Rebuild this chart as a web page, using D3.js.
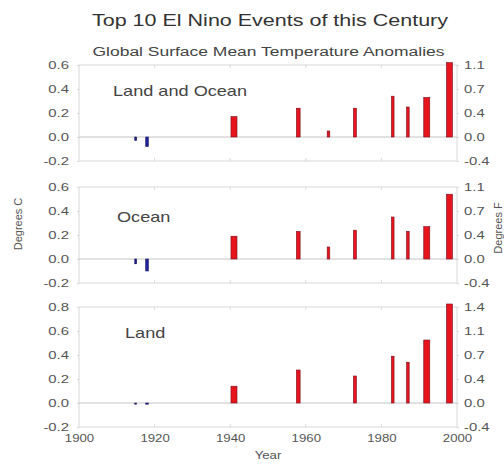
<!DOCTYPE html>
<html><head><meta charset="utf-8">
<script src="https://cdn.jsdelivr.net/npm/d3@7"></script>
<style>body{margin:0;background:#fff} svg{display:block}</style>
</head><body>
<svg id="chart" width="504" height="468"></svg>
<script>
// Ten strongest El Nino events of the century and their mean temperature anomalies (deg C)
const eventYears   = [1915, 1918, 1941, 1958, 1966, 1973, 1983, 1987, 1992, 1998];
const eventLengths = [0.5, 0.7, 1.6, 1.0, 0.7, 0.8, 0.7, 0.7, 1.6, 1.6]; // duration, years
const landOcean = [-0.03, -0.08, 0.17, 0.24, 0.05, 0.24, 0.34, 0.25, 0.33, 0.62];
const ocean     = [-0.04, -0.10, 0.19, 0.23, 0.10, 0.24, 0.35, 0.23, 0.27, 0.54];
const land      = [-0.01, -0.01, 0.14, 0.275, 0.0, 0.225, 0.39, 0.34, 0.525, 0.825];

const yearTicks = [1900, 1920, 1940, 1960, 1980, 2000];
const cTicksShort = [-0.2, 0.0, 0.2, 0.4, 0.6];
const cLabelsShort = ["-0.2", "0.0", "0.2", "0.4", "0.6"];
const fLabelsShort = ["-0.4", "0.0", "0.4", "0.7", "1.1"];
const cTicksTall = [-0.2, 0.0, 0.2, 0.4, 0.6, 0.8];
const cLabelsTall = ["-0.2", "0.0", "0.2", "0.4", "0.6", "0.8"];
const fLabelsTall = ["-0.4", "0.0", "0.4", "0.7", "1.1", "1.4"];

const panels = [
  {name: "Land and Ocean", values: landOcean, domain: [-0.2, 0.6], ticks: cTicksShort, cLabels: cLabelsShort, fLabels: fLabelsShort},
  {name: "Ocean",          values: ocean,     domain: [-0.2, 0.6], ticks: cTicksShort, cLabels: cLabelsShort, fLabels: fLabelsShort},
  {name: "Land",           values: land,      domain: [-0.2, 0.8], ticks: cTicksTall,  cLabels: cLabelsTall,  fLabels: fLabelsTall}
];

// layout
const layout = [
  {top: 65,  bottom: 161, labelX: 113, labelY: 96},
  {top: 187, bottom: 283, labelX: 117, labelY: 222},
  {top: 307, bottom: 427, labelX: 125, labelY: 338}
];
const left = 79, right = 457;
const font = "'Liberation Sans', Arial, sans-serif";
const textColor = "#555";
const frameColor = "#d8d8d8";

const svg = d3.select("#chart");
const x = d3.scaleLinear().domain([1900, 2000]).range([left, right]);

// widen small glyph runs a little, the way the original lettering is set
function stretch(sel, k) {
  sel.each(function () {
    const w = this.getComputedTextLength();
    d3.select(this).attr("textLength", w * k).attr("lengthAdjust", "spacingAndGlyphs");
  });
}

svg.append("text")
  .attr("x", 270).attr("y", 26)
  .attr("text-anchor", "middle")
  .attr("font-family", font).attr("font-size", 17)
  .attr("fill", "#333")
  .attr("textLength", 356).attr("lengthAdjust", "spacingAndGlyphs")
  .text("Top 10 El Nino Events of this Century");

svg.append("text")
  .attr("x", 268.5).attr("y", 56)
  .attr("text-anchor", "middle")
  .attr("font-family", font).attr("font-size", 12)
  .attr("fill", "#444")
  .attr("textLength", 352).attr("lengthAdjust", "spacingAndGlyphs")
  .text("Global Surface Mean Temperature Anomalies");

panels.forEach((p, i) => {
  const L = layout[i];
  const y = d3.scaleLinear().domain(p.domain).range([L.bottom, L.top]);
  const g = svg.append("g");

  // frame
  g.append("rect")
    .attr("x", left).attr("y", L.top)
    .attr("width", right - left).attr("height", L.bottom - L.top)
    .attr("fill", "none").attr("stroke", frameColor).attr("stroke-width", 1);

  // small year tick marks along top and bottom edges
  g.selectAll(".tt").data(yearTicks.slice(1, -1)).join("line")
    .attr("x1", d => x(d)).attr("x2", d => x(d))
    .attr("y1", L.top).attr("y2", L.top + 3)
    .attr("stroke", frameColor);
  g.selectAll(".tb").data(yearTicks.slice(1, -1)).join("line")
    .attr("x1", d => x(d)).attr("x2", d => x(d))
    .attr("y1", L.bottom).attr("y2", L.bottom - 3)
    .attr("stroke", frameColor);

  // zero line
  g.append("line")
    .attr("x1", left).attr("x2", right)
    .attr("y1", y(0)).attr("y2", y(0))
    .attr("stroke", "#c4c4c4").attr("stroke-width", 1);

  // bars
  g.selectAll(".bar").data(p.values.map((v, j) => ({v, year: eventYears[j], len: eventLengths[j]})))
    .join("rect")
    .attr("x", d => x(d.year - d.len / 2))
    .attr("width", d => x(d.year + d.len / 2) - x(d.year - d.len / 2))
    .attr("y", d => y(Math.max(0, d.v)))
    .attr("height", d => Math.abs(y(d.v) - y(0)))
    .attr("fill", d => d.v < 0 ? "#23239a" : "#e6141c")
    .attr("stroke", d => d.v < 0 ? "#14145e" : "#7a1020")
    .attr("stroke-width", 0.6);

  // left axis (deg C)
  const ax = g.append("g")
    .attr("transform", `translate(${left},0)`)
    .call(d3.axisLeft(y).tickValues(p.ticks)
      .tickFormat((d, j) => p.cLabels[j]).tickSize(2).tickPadding(8));
  ax.select(".domain").remove();
  ax.selectAll(".tick line").attr("stroke", frameColor);
  ax.selectAll("text").attr("font-family", font).attr("font-size", 11).attr("fill", textColor)
    .call(stretch, 1.35);

  // right axis (deg F)
  const ar = g.append("g")
    .attr("transform", `translate(${right},0)`)
    .call(d3.axisRight(y).tickValues(p.ticks)
      .tickFormat((d, j) => p.fLabels[j]).tickSize(2).tickPadding(5));
  ar.select(".domain").remove();
  ar.selectAll(".tick line").attr("stroke", frameColor);
  ar.selectAll("text").attr("font-family", font).attr("font-size", 11).attr("fill", textColor)
    .call(stretch, 1.35);

  // panel name
  g.append("text")
    .attr("x", L.labelX).attr("y", L.labelY)
    .attr("font-family", font).attr("font-size", 14.5)
    .attr("fill", "#444")
    .text(p.name)
    .call(stretch, 1.25);

  // year axis under the last panel
  if (i === panels.length - 1) {
    const xb = g.append("g")
      .attr("transform", `translate(0,${L.bottom})`)
      .call(d3.axisBottom(x).tickValues(yearTicks).tickFormat(d3.format("d")).tickSize(0).tickPadding(7));
    xb.select(".domain").remove();
    xb.selectAll("text").attr("font-family", font).attr("font-size", 11).attr("fill", textColor)
      .call(stretch, 1.2);
  }
});

svg.append("text")
  .attr("x", 268).attr("y", 459)
  .attr("text-anchor", "middle")
  .attr("font-family", font).attr("font-size", 11).attr("fill", textColor)
  .text("Year").call(stretch, 1.2);

svg.append("text")
  .attr("transform", "translate(22,224) rotate(-90)")
  .attr("text-anchor", "middle")
  .attr("font-family", font).attr("font-size", 11).attr("fill", textColor)
  .text("Degrees C");

svg.append("text")
  .attr("transform", "translate(502,228) rotate(-90)")
  .attr("text-anchor", "middle")
  .attr("font-family", font).attr("font-size", 11).attr("fill", textColor)
  .text("Degrees F");
</script>
</body></html>
